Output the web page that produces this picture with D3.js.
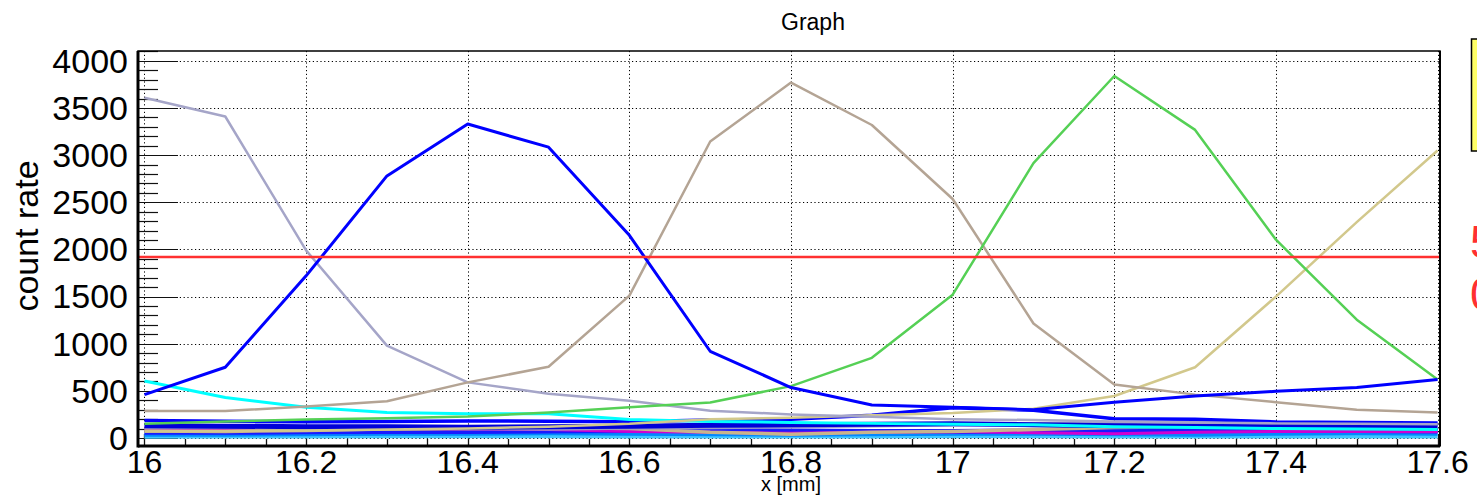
<!DOCTYPE html>
<html>
<head>
<meta charset="utf-8">
<script src="https://cdn.jsdelivr.net/npm/d3@7"></script>
<style>
  html, body { margin: 0; padding: 0; background: #fff; }
  svg { display: block; }
  text { font-family: "Liberation Sans", Arial, sans-serif; }
</style>
</head>
<body>
<svg id="chart" width="1477" height="496"></svg>
<script>
// ---- data ----
const xValues = [16.0, 16.1, 16.2, 16.3, 16.4, 16.5, 16.6, 16.7, 16.8, 16.9, 17.0, 17.1, 17.2, 17.3, 17.4, 17.5, 17.6];

const lavender = [3610, 3410, 1990, 980, 590, 470, 395, 290, 250, 225, 200, 190, 175, 165, 155, 150, 145];
const bluePeak = [460, 750, 1720, 2780, 3330, 3085, 2150, 920, 535, 350, 325, 300, 380, 445, 495, 535, 620];
const tanPeak = [285, 285, 335, 390, 590, 755, 1510, 3145, 3770, 3320, 2535, 1215, 567, 460, 380, 300, 270];
const greenPeak = [150, 175, 195, 210, 228, 270, 326, 376, 550, 850, 1520, 2915, 3840, 3268, 2103, 1255, 620];
const khakiPeak = [70, 75, 80, 90, 100, 120, 150, 200, 215, 240, 265, 310, 445, 750, 1500, 2290, 3050];
const cyanTail = [605, 430, 325, 270, 258, 258, 196, 175, 165, 155, 145, 140, 120, 110, 100, 95, 90];
const lowBlue = [185, 178, 172, 175, 180, 178, 172, 190, 200, 240, 320, 295, 205, 200, 170, 165, 160];
const darkBlue = [130, 125, 120, 118, 115, 120, 125, 135, 140, 145, 150, 140, 130, 125, 120, 115, 110];
const lavenderLow = [110, 115, 105, 110, 100, 95, 105, 110, 120, 130, 140, 150, 160, 165, 160, 150, 140];
const tanLow = [75, 70, 80, 95, 100, 110, 100, 60, 40, 60, 70, 90, 110, 120, 130, 140, 150];
const magentaLow = [95, 90, 90, 100, 95, 90, 70, 60, 50, 60, 70, 55, 45, 60, 70, 70, 65];
const blueLow2 = [60, 60, 65, 70, 70, 75, 80, 80, 75, 70, 70, 75, 80, 85, 80, 80, 75];
const azureLow = [40, 40, 45, 50, 50, 55, 50, 45, 40, 45, 50, 50, 45, 40, 50, 55, 50];
const skyLow = [18, 20, 22, 25, 25, 25, 22, 22, 20, 22, 25, 25, 22, 20, 22, 22, 20];

const threshold = 1920;

const xTicks = [16, 16.2, 16.4, 16.6, 16.8, 17, 17.2, 17.4, 17.6];
const xTickLabels = ["16", "16.2", "16.4", "16.6", "16.8", "17", "17.2", "17.4", "17.6"];
const yTicks = [0, 500, 1000, 1500, 2000, 2500, 3000, 3500, 4000];
const yTickLabels = ["0", "500", "1000", "1500", "2000", "2500", "3000", "3500", "4000"];

const titleText = "Graph";
const xTitle = "x [mm]";
const yTitle = "count rate";

// ---- layout ----
const frame = { left: 138, right: 1440, top: 51, bottom: 446 };
const svg = d3.select("#chart");

const x = d3.scaleLinear().domain([15.992, 17.603]).range([frame.left, frame.right]);
const y = d3.scaleLinear().domain([-85, 4105]).range([frame.bottom, frame.top]);

// title
svg.append("text").attr("x", 813).attr("y", 30).attr("text-anchor", "middle")
  .attr("font-size", 23).attr("fill", "#000").text(titleText);

// grid
const grid = svg.append("g").attr("stroke", "#000").attr("stroke-width", 1)
  .attr("stroke-dasharray", "1.2,2.6");
grid.selectAll("line.gy").data(yTicks).join("line")
  .attr("x1", frame.left).attr("x2", frame.right)
  .attr("y1", d => Math.round(y(d)) + 0.5).attr("y2", d => Math.round(y(d)) + 0.5);
grid.selectAll("line.gx").data(xTicks).join("line")
  .attr("y1", frame.top).attr("y2", frame.bottom)
  .attr("x1", d => Math.round(x(d)) + 0.5).attr("x2", d => Math.round(x(d)) + 0.5);

// y ticks (inside, major long, minor short)
const yMinor = d3.range(0, 4101, 100);
svg.append("g").selectAll("line").data(yMinor).join("line")
  .attr("x1", frame.left).attr("x2", d => frame.left + (d % 500 === 0 ? 40 : 20))
  .attr("y1", d => Math.round(y(d)) + 0.5).attr("y2", d => Math.round(y(d)) + 0.5)
  .attr("stroke", "#111").attr("stroke-width", 1.2);

// x ticks
const xMinor = d3.range(0, 33).map(i => 16 + i * 0.05);
svg.append("g").selectAll("line").data(xMinor).join("line")
  .attr("y1", frame.bottom).attr("y2", (d, i) => frame.bottom - (i % 4 === 0 ? 12 : 7))
  .attr("x1", d => Math.round(x(d)) + 0.5).attr("x2", d => Math.round(x(d)) + 0.5)
  .attr("stroke", "#111").attr("stroke-width", 1.3);

// series
const line = d3.line().x((d, i) => x(xValues[i])).y(d => y(d));
const series = [
  { v: skyLow, c: "#40c8ff", w: 5 },
  { v: azureLow, c: "#0088ff", w: 5 },
  { v: blueLow2, c: "#1a1aff", w: 5 },
  { v: magentaLow, c: "#d000d0", w: 3 },
  { v: tanLow, c: "#c8b48c", w: 3.5 },
  { v: lavenderLow, c: "#9a9ac8", w: 3.5 },
  { v: darkBlue, c: "#0000d8", w: 5 },
  { v: lowBlue, c: "#0000ff", w: 3.5 },
  { v: cyanTail, c: "#00ffff", w: 3 },
  { v: khakiPeak, c: "#d2c88c", w: 2.5 },
  { v: lavender, c: "#a5a5c8", w: 2.5 },
  { v: tanPeak, c: "#b4a494", w: 2.5 },
  { v: greenPeak, c: "#55d055", w: 2.5 },
  { v: bluePeak, c: "#0000ff", w: 3 }
];
svg.append("g").selectAll("path").data(series).join("path")
  .attr("d", d => line(d.v)).attr("fill", "none")
  .attr("stroke", d => d.c).attr("stroke-width", d => d.w)
  .attr("stroke-linejoin", "round");

// threshold line
svg.append("line").attr("x1", frame.left).attr("x2", frame.right)
  .attr("y1", y(threshold)).attr("y2", y(threshold))
  .attr("stroke", "#ff3030").attr("stroke-width", 2.5);

// frame
svg.append("rect").attr("x", frame.left).attr("y", frame.top)
  .attr("width", frame.right - frame.left).attr("height", frame.bottom - frame.top)
  .attr("fill", "none").attr("stroke", "#000").attr("stroke-width", 1.5);
svg.append("line").attr("x1", frame.left).attr("x2", frame.left)
  .attr("y1", frame.top).attr("y2", frame.bottom + 1.5).attr("stroke", "#000").attr("stroke-width", 3);
svg.append("line").attr("x1", frame.left).attr("x2", frame.right)
  .attr("y1", frame.bottom).attr("y2", frame.bottom).attr("stroke", "#000").attr("stroke-width", 3);
svg.append("line").attr("x1", frame.right).attr("x2", frame.right)
  .attr("y1", frame.top).attr("y2", frame.bottom).attr("stroke", "#000").attr("stroke-width", 2);

// tick labels
svg.append("g").selectAll("text").data(yTicks).join("text")
  .attr("x", 128).attr("y", d => y(d)).attr("dy", "0.35em")
  .attr("text-anchor", "end").attr("font-size", 34).attr("fill", "#000")
  .text((d, i) => yTickLabels[i]);
svg.append("g").selectAll("text").data(xTicks).join("text")
  .attr("x", d => x(d)).attr("y", 473)
  .attr("text-anchor", "middle").attr("font-size", 32).attr("fill", "#000")
  .text((d, i) => xTickLabels[i]);

// axis titles
svg.append("text").attr("transform", "translate(38,236) rotate(-90)")
  .attr("text-anchor", "middle").attr("font-size", 34).attr("fill", "#000").text(yTitle);
svg.append("text").attr("x", 791).attr("y", 491).attr("text-anchor", "middle")
  .attr("font-size", 20).attr("fill", "#000").text(xTitle);

// legend box (clipped at right edge)
svg.append("rect").attr("x", 1471.5).attr("y", 39).attr("width", 20).attr("height", 112)
  .attr("fill", "#ffff66").attr("stroke", "#000").attr("stroke-width", 1.5);

// red annotation text (clipped at the right edge, as in the reference)
svg.append("text").attr("x", 1470).attr("y", 258).attr("font-size", 46).attr("fill", "#ff3030").text("5");
svg.append("text").attr("x", 1470).attr("y", 310).attr("font-size", 46).attr("fill", "#ff3030").text("0");
</script>
</body>
</html>
